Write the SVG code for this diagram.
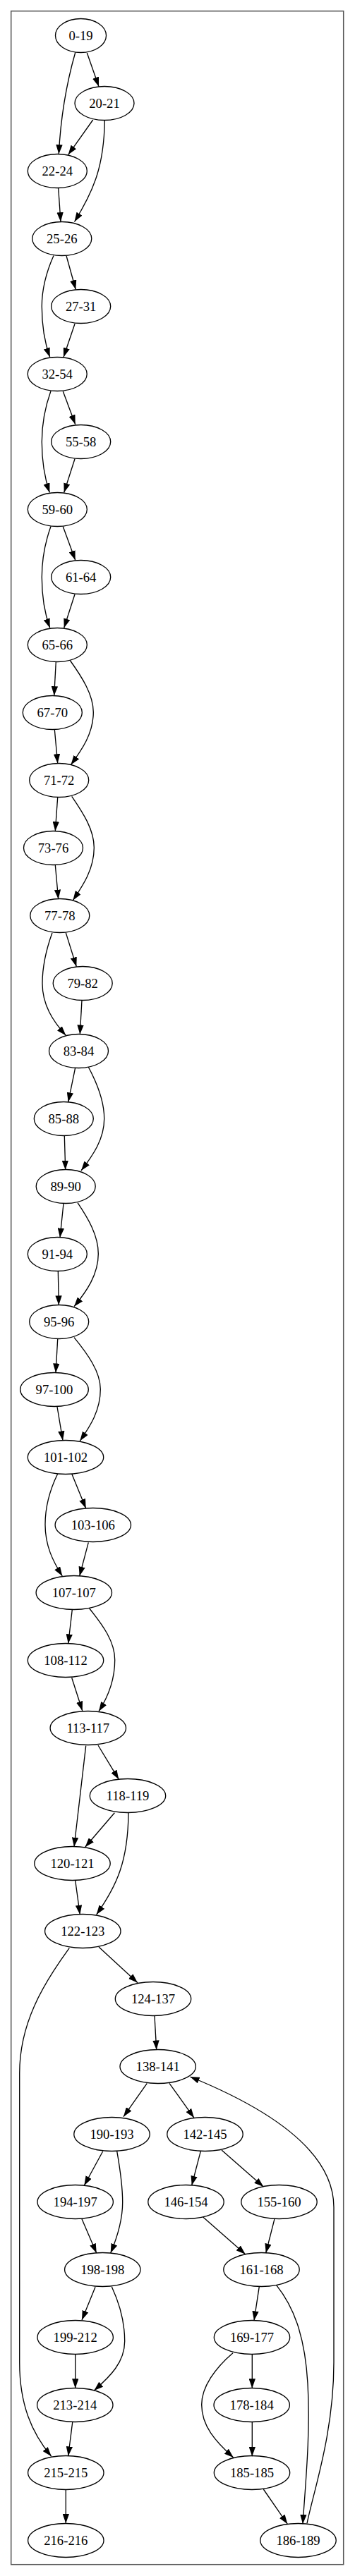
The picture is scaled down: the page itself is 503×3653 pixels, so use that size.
<svg xmlns="http://www.w3.org/2000/svg" width="503" height="3653" viewBox="0 0 503 3653">
<style>
.n ellipse{fill:none;stroke:#000;stroke-width:1.33}
.n text{font-family:"Liberation Serif","Times New Roman",serif;font-size:18.67px;text-anchor:middle;fill:#000}
#edges path{fill:none;stroke:#000;stroke-width:1.33;marker-end:url(#ah)}
</style>
<defs>
<marker id="ah" viewBox="0 0 13.33 9.33" refX="13.33" refY="4.67" markerWidth="13.33" markerHeight="9.33" orient="auto" markerUnits="userSpaceOnUse">
<path d="M0,0 L13.33,4.67 L0,9.33 z" fill="#000"/>
</marker>
</defs>
<rect x="0" y="0" width="503" height="3653" fill="#fff"/>
<rect x="15.7" y="15.7" width="471" height="3621" fill="none" stroke="#555" stroke-width="1.5"/>
<g id="edges">
<path d="M106.7,74.5 C96,112 86,165 83.3,218.5"/>
<path d="M123.3,75 L140,122.7"/>
<path d="M131.7,170 L96.7,219.3"/>
<path d="M148.3,170.7 C147.5,235 133,270 105.5,314.5"/>
<path d="M82.7,266.7 L86,314.5"/>
<path d="M94,362.7 L107.3,410.5"/>
<path d="M76,362.5 C66,385 59.3,410 59.3,434.5 C59.3,462 63,485 70.7,506.5"/>
<path d="M106,459.3 L90,506.5"/>
<path d="M89.3,555 L106.7,601.7"/>
<path d="M72,554.5 C64,577 59.3,600 59.3,626.5 C59.3,654 63,677 70.3,698.5"/>
<path d="M106,650.7 L90.7,698.5"/>
<path d="M89.3,746.7 L106.7,794.3"/>
<path d="M72,746.5 C64,769 59.3,792 59.3,818.5 C59.3,846 63,869 70.7,890.5"/>
<path d="M106,842.7 L90.7,890.5"/>
<path d="M79.3,938.3 L76.7,986.5"/>
<path d="M99.3,936.5 C116,960 132.3,985 132.3,1010 C132.3,1040 116,1063 100.5,1084.5"/>
<path d="M77.3,1034.3 L81.7,1082.5"/>
<path d="M81.7,1130.7 L78.3,1178.5"/>
<path d="M101.7,1129.3 C118,1153 133.3,1177 133.3,1202 C133.3,1232 118,1255 103.3,1276.7"/>
<path d="M78.3,1226.7 L82.7,1275"/>
<path d="M93.3,1322.7 L108.3,1370.7"/>
<path d="M74,1322.7 C66,1345 60,1370 60,1394.5 C60,1425 75,1448 93.3,1468.3"/>
<path d="M116,1418.3 L113.3,1466.7"/>
<path d="M106.7,1514 L96.7,1562.7"/>
<path d="M125.3,1513.3 C137,1535 147.7,1560 147.7,1586.5 C147.7,1615 132,1638 115,1660"/>
<path d="M91.3,1610.7 L92.7,1659"/>
<path d="M90,1706.7 L85,1755"/>
<path d="M110,1705.7 C125,1728 139.3,1752 139.3,1778 C139.3,1808 122,1832 105,1852.7"/>
<path d="M82.3,1802.7 L83.3,1850.7"/>
<path d="M81.7,1899 L79,1946.7"/>
<path d="M105,1896.7 C124,1920 142.3,1945 142.3,1970 C142.3,2000 128,2022 113.3,2043.3"/>
<path d="M81,1995 L89,2042.7"/>
<path d="M101.7,2090 L121.7,2139"/>
<path d="M81.7,2090 C71,2112 64,2137 64,2162 C64,2192 75,2214 88.3,2235"/>
<path d="M125.3,2187.3 L112.7,2235"/>
<path d="M102.3,2282.7 L96.7,2330.7"/>
<path d="M126.7,2281 C146,2305 162.7,2328 162.7,2354 C162.7,2385 152,2408 140,2426.7"/>
<path d="M101.7,2379.3 L116.7,2426"/>
<path d="M139,2475 L168.3,2523.3"/>
<path d="M121.7,2475.7 L105,2619"/>
<path d="M162.3,2570.7 L120.7,2619.3"/>
<path d="M182,2570.7 C181.5,2640 165,2675 136.7,2715"/>
<path d="M106.7,2666.7 L113.3,2715"/>
<path d="M140,2761 L195,2811.7"/>
<path d="M98.3,2762.3 C60,2815 27.7,2870 27.7,2940 L27.7,3350 C27.7,3410 45,3450 72.7,3483.3"/>
<path d="M219,2859 L221.7,2906.7"/>
<path d="M208.3,2954.3 L175,3001.7"/>
<path d="M240,2954.3 L275,3003.3"/>
<path d="M435,3578.3 C445,3530 473,3450 473,3350 L473,3130 C473,3050 380,2990 269.3,2945"/>
<path d="M145.7,3050.7 L119.3,3099.3"/>
<path d="M165.7,3050.7 C170,3075 173.7,3098 173.7,3123 C173.7,3150 166,3173 156.7,3195"/>
<path d="M116,3146.7 L136.7,3195"/>
<path d="M284.3,3050.7 L271.7,3099"/>
<path d="M314,3049 L373.3,3101"/>
<path d="M287.7,3144 L347.7,3196.7"/>
<path d="M389,3146.7 L376.7,3195"/>
<path d="M367.3,3242.7 L360,3290.7"/>
<path d="M391.7,3240.7 C415,3270 432,3310 436,3380 C440,3450 433,3520 429,3579.3"/>
<path d="M135,3243.3 L116,3290"/>
<path d="M158.3,3242.7 C170,3268 176.7,3295 176.7,3320 C176.7,3350 156,3370 133.3,3390"/>
<path d="M106.7,3338.3 L106.7,3386.7"/>
<path d="M357.3,3338.3 L357.3,3386.7"/>
<path d="M330,3336.7 C305,3358 285.7,3385 285.7,3410 C285.7,3440 305,3462 330.7,3485"/>
<path d="M357.3,3435 L357.3,3483.3"/>
<path d="M373.3,3530 L407.3,3579.3"/>
<path d="M102.7,3435 L96.7,3482.7"/>
<path d="M93.3,3530.7 L93.3,3578.3"/>
</g>
<g id="n0" class="n"><ellipse cx="114.5" cy="50.5" rx="36" ry="24"/><text x="114.5" y="56.5">0-19</text></g>
<g id="n1" class="n"><ellipse cx="148" cy="146.5" rx="42" ry="24"/><text x="148" y="152.5">20-21</text></g>
<g id="n2" class="n"><ellipse cx="81.3" cy="242.5" rx="42" ry="24"/><text x="81.3" y="248.5">22-24</text></g>
<g id="n3" class="n"><ellipse cx="87.8" cy="338.5" rx="42" ry="24"/><text x="87.8" y="344.5">25-26</text></g>
<g id="n4" class="n"><ellipse cx="114.7" cy="434.5" rx="42" ry="24"/><text x="114.7" y="440.5">27-31</text></g>
<g id="n5" class="n"><ellipse cx="81.2" cy="530.5" rx="42" ry="24"/><text x="81.2" y="536.5">32-54</text></g>
<g id="n6" class="n"><ellipse cx="114.7" cy="626.5" rx="42" ry="24"/><text x="114.7" y="632.5">55-58</text></g>
<g id="n7" class="n"><ellipse cx="81.3" cy="722.5" rx="42" ry="24"/><text x="81.3" y="728.5">59-60</text></g>
<g id="n8" class="n"><ellipse cx="114.7" cy="818.5" rx="42" ry="24"/><text x="114.7" y="824.5">61-64</text></g>
<g id="n9" class="n"><ellipse cx="81.3" cy="914.5" rx="42" ry="24"/><text x="81.3" y="920.5">65-66</text></g>
<g id="n10" class="n"><ellipse cx="74.3" cy="1010.5" rx="42" ry="24"/><text x="74.3" y="1016.5">67-70</text></g>
<g id="n11" class="n"><ellipse cx="83.7" cy="1106.5" rx="42" ry="24"/><text x="83.7" y="1112.5">71-72</text></g>
<g id="n12" class="n"><ellipse cx="75.5" cy="1202.5" rx="42" ry="24"/><text x="75.5" y="1208.5">73-76</text></g>
<g id="n13" class="n"><ellipse cx="84.8" cy="1298.5" rx="42" ry="24"/><text x="84.8" y="1304.5">77-78</text></g>
<g id="n14" class="n"><ellipse cx="117.2" cy="1394.5" rx="42" ry="24"/><text x="117.2" y="1400.5">79-82</text></g>
<g id="n15" class="n"><ellipse cx="111.5" cy="1490.5" rx="42" ry="24"/><text x="111.5" y="1496.5">83-84</text></g>
<g id="n16" class="n"><ellipse cx="90.3" cy="1586.5" rx="42" ry="24"/><text x="90.3" y="1592.5">85-88</text></g>
<g id="n17" class="n"><ellipse cx="93.2" cy="1682.5" rx="42" ry="24"/><text x="93.2" y="1688.5">89-90</text></g>
<g id="n18" class="n"><ellipse cx="81.3" cy="1778.5" rx="42" ry="24"/><text x="81.3" y="1784.5">91-94</text></g>
<g id="n19" class="n"><ellipse cx="83.7" cy="1874.5" rx="42" ry="24"/><text x="83.7" y="1880.5">95-96</text></g>
<g id="n20" class="n"><ellipse cx="77" cy="1970.5" rx="48.3" ry="24"/><text x="77" y="1976.5">97-100</text></g>
<g id="n21" class="n"><ellipse cx="93" cy="2066.5" rx="53.7" ry="24"/><text x="93" y="2072.5">101-102</text></g>
<g id="n22" class="n"><ellipse cx="131.8" cy="2162.5" rx="53.7" ry="24"/><text x="131.8" y="2168.5">103-106</text></g>
<g id="n23" class="n"><ellipse cx="104.8" cy="2258.5" rx="53.7" ry="24"/><text x="104.8" y="2264.5">107-107</text></g>
<g id="n24" class="n"><ellipse cx="93" cy="2354.5" rx="53.7" ry="24"/><text x="93" y="2360.5">108-112</text></g>
<g id="n25" class="n"><ellipse cx="124.8" cy="2450.5" rx="53.7" ry="24"/><text x="124.8" y="2456.5">113-117</text></g>
<g id="n26" class="n"><ellipse cx="181" cy="2546.5" rx="53.7" ry="24"/><text x="181" y="2552.5">118-119</text></g>
<g id="n27" class="n"><ellipse cx="102.5" cy="2642.5" rx="53.7" ry="24"/><text x="102.5" y="2648.5">120-121</text></g>
<g id="n28" class="n"><ellipse cx="117.3" cy="2738.5" rx="53.7" ry="24"/><text x="117.3" y="2744.5">122-123</text></g>
<g id="n29" class="n"><ellipse cx="217" cy="2834.5" rx="53.7" ry="24"/><text x="217" y="2840.5">124-137</text></g>
<g id="n30" class="n"><ellipse cx="223.7" cy="2930.5" rx="53.7" ry="24"/><text x="223.7" y="2936.5">138-141</text></g>
<g id="n31" class="n"><ellipse cx="158.5" cy="3026.5" rx="53.7" ry="24"/><text x="158.5" y="3032.5">190-193</text></g>
<g id="n32" class="n"><ellipse cx="290.5" cy="3026.5" rx="53.7" ry="24"/><text x="290.5" y="3032.5">142-145</text></g>
<g id="n33" class="n"><ellipse cx="106.7" cy="3122.5" rx="53.7" ry="24"/><text x="106.7" y="3128.5">194-197</text></g>
<g id="n34" class="n"><ellipse cx="263.5" cy="3122.5" rx="53.7" ry="24"/><text x="263.5" y="3128.5">146-154</text></g>
<g id="n35" class="n"><ellipse cx="395.5" cy="3122.5" rx="53.7" ry="24"/><text x="395.5" y="3128.5">155-160</text></g>
<g id="n36" class="n"><ellipse cx="145.3" cy="3218.5" rx="53.7" ry="24"/><text x="145.3" y="3224.5">198-198</text></g>
<g id="n37" class="n"><ellipse cx="370.5" cy="3218.5" rx="53.7" ry="24"/><text x="370.5" y="3224.5">161-168</text></g>
<g id="n38" class="n"><ellipse cx="106.7" cy="3314.5" rx="53.7" ry="24"/><text x="106.7" y="3320.5">199-212</text></g>
<g id="n39" class="n"><ellipse cx="357" cy="3314.5" rx="53.7" ry="24"/><text x="357" y="3320.5">169-177</text></g>
<g id="n40" class="n"><ellipse cx="106.3" cy="3410.5" rx="53.7" ry="24"/><text x="106.3" y="3416.5">213-214</text></g>
<g id="n41" class="n"><ellipse cx="356.7" cy="3410.5" rx="53.7" ry="24"/><text x="356.7" y="3416.5">178-184</text></g>
<g id="n42" class="n"><ellipse cx="93.3" cy="3506.5" rx="53.7" ry="24"/><text x="93.3" y="3512.5">215-215</text></g>
<g id="n43" class="n"><ellipse cx="357" cy="3506.5" rx="53.7" ry="24"/><text x="357" y="3512.5">185-185</text></g>
<g id="n44" class="n"><ellipse cx="93.3" cy="3602.5" rx="53.7" ry="24"/><text x="93.3" y="3608.5">216-216</text></g>
<g id="n45" class="n"><ellipse cx="422.5" cy="3602.5" rx="53.7" ry="24"/><text x="422.5" y="3608.5">186-189</text></g>
</svg>
